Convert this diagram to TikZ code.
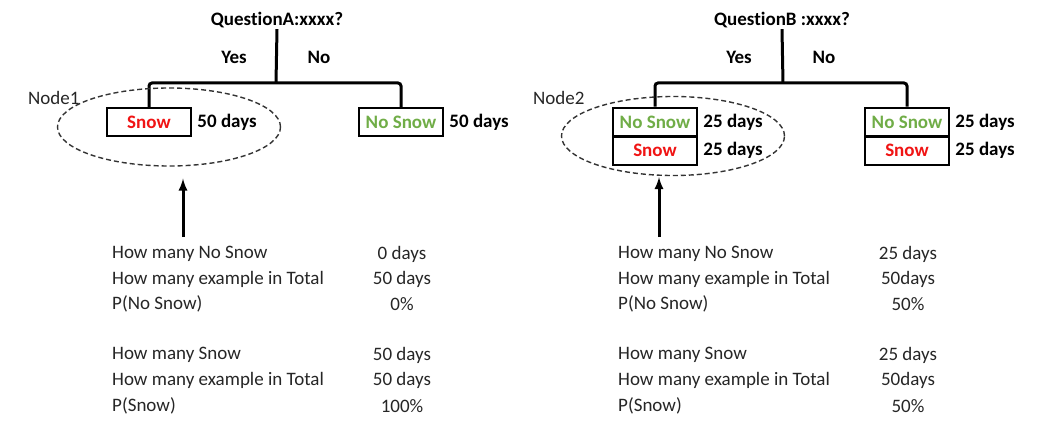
\documentclass[tikz,border=0pt]{standalone}
\usepackage{fontspec}
\setmainfont{Carlito}[Ligatures=NoCommon]
\usepackage{xcolor}
\usetikzlibrary{arrows}
\usetikzlibrary{shapes.geometric}
\usetikzlibrary{positioning}
\definecolor{snowred}{RGB}{240,20,20}
\definecolor{nosnowgreen}{RGB}{112,173,71}
\tikzset{
  txt/.style={font=\fontsize{19}{22}\selectfont,text=black!85,inner sep=0pt},
  bold/.style={font=\fontsize{19}{22}\selectfont\bfseries,inner sep=0pt},
  box/.style={draw,line width=2.5pt,minimum width=84pt,minimum height=28pt,inner sep=0pt,font=\fontsize{19}{22}\selectfont\bfseries},
  branch/.style={line width=3pt,rounded corners=3pt},
  ring/.style={draw=black!80,dash pattern=on 5pt off 3pt,ellipse,line width=1.4pt,inner sep=0pt},
  pointer/.style={line width=3pt,-latex}
}
\begin{document}
\begin{tikzpicture}[x=1pt,y=-1pt]
\fill[white] (0,0) rectangle (1042,428);
\useasboundingbox (0,0) rectangle (1042,428);
% left tree
\node[bold] (qA) at (277,20) {QuestionA:xxxx?};
\node[bold] (yesA) at (234,57) {Yes};
\node[bold] (noA) at (319,57) {No};
\coordinate (barA) at (276,83);
\node[box,text=snowred] (snowA) at (149,122) {Snow};
\node[box,text=nosnowgreen] (nosnowA) at (401,122) {No Snow};
\node[bold,right=5pt of snowA] (daysA1) {50 days};
\node[bold,right=5pt of nosnowA] (daysA2) {50 days};
\draw[branch] (qA.south) ++(0,1) -- (barA);
\draw[branch] (snowA.north) |- (barA) -| (nosnowA.north);
\node[ring,minimum width=223pt,minimum height=78pt] (ringA) at (169,127) {};
\node[txt,anchor=west] (nodeA) at (28,98) {Node1};
\coordinate (tailA) at (183,237);
\draw[pointer] (tailA) -- (tailA |- ringA.south) [shorten >=12pt];
% right tree
\node[bold] (qB) at (782,20) {QuestionB :xxxx?};
\node[bold] (yesB) at (739,57) {Yes};
\node[bold] (noB) at (824,57) {No};
\coordinate (barB) at (783,83);
\node[box,text=nosnowgreen,minimum height=28.5pt] (nosnowB1) at (655,122) {No Snow};
\node[box,text=snowred,minimum height=28.5pt,below=-2.5pt of nosnowB1] (snowB1) {Snow};
\node[box,text=nosnowgreen,minimum height=28.5pt] (nosnowB2) at (907,122) {No Snow};
\node[box,text=snowred,minimum height=28.5pt,below=-2.5pt of nosnowB2] (snowB2) {Snow};
\node[bold,right=5pt of nosnowB1] (daysB1) {25 days};
\node[bold,right=5pt of snowB1] (daysB2) {25 days};
\node[bold,right=5pt of nosnowB2] (daysB3) {25 days};
\node[bold,right=5pt of snowB2] (daysB4) {25 days};
\draw[branch] (qB.south) ++(0,1) -- (barB);
\draw[branch] (nosnowB1.north) |- (barB) -| (nosnowB2.north);
\node[ring,minimum width=223pt,minimum height=79pt] (ringB) at (673,136) {};
\node[txt,anchor=west] (nodeB) at (533,98) {Node2};
\coordinate (tailB) at (659,237);
\draw[pointer] (tailB) -- (tailB |- ringB.south) [shorten >=1pt];
% tables
\foreach \y/\lab/\val in {254/How many No Snow/0 days, 279/How many example in Total/50 days, 304/P(No Snow)/0\%,
    355/How many Snow/50 days, 380/How many example in Total/50 days, 406/P(Snow)/100\%}
{
  \node[txt,anchor=west] (labA\y) at (112,\y) {\lab};
  \node[txt] (valA\y) at (402,\y) {\val};
}
\foreach \y/\lab/\val in {254/How many No Snow/25 days, 279/How many example in Total/50days, 304/P(No Snow)/50\%,
    355/How many Snow/25 days, 380/How many example in Total/50days, 406/P(Snow)/50\%}
{
  \node[txt,anchor=west] (labB\y) at (618,\y) {\lab};
  \node[txt] (valB\y) at (908,\y) {\val};
}
\end{tikzpicture}
\end{document}
